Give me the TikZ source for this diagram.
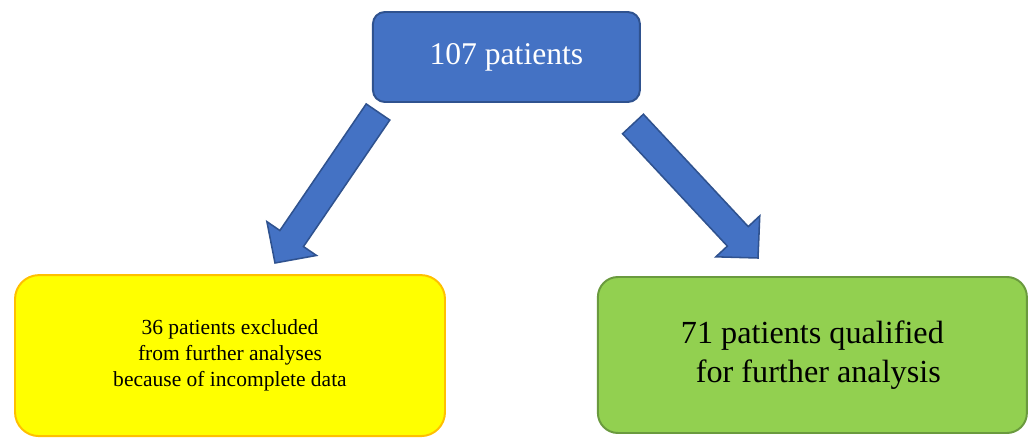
\documentclass[tikz,border=0pt]{standalone}
\usepackage{fontspec}
\setmainfont{Liberation Serif}
\usetikzlibrary{calc}

\definecolor{boxblue}{HTML}{4472C4}
\definecolor{edgeblue}{HTML}{2F528F}
\definecolor{boxyellow}{HTML}{FFFF00}
\definecolor{edgeorange}{HTML}{FFC000}
\definecolor{boxgreen}{HTML}{92D050}
\definecolor{edgegreen}{HTML}{6A9A3E}

\begin{document}
\begin{tikzpicture}[
  flowbox/.style={rectangle, line width=1.4pt, align=center},
  fatarrow/.style={line width=1.1pt, draw=edgeblue, fill=boxblue, line join=miter}]
\useasboundingbox (0,0) rectangle (25.8cm,-10.95cm);

\node at (12.66cm, -1.425cm) [flowbox, rounded corners=0.3cm, draw=edgeblue, fill=boxblue, minimum width=6.675cm, minimum height=2.25cm, text=white, font=\fontsize{22.5}{27}\selectfont] (total) {107 patients};
\node at (5.75cm, -8.89cm) [flowbox, rounded corners=0.6cm, draw=edgeorange, fill=boxyellow, minimum width=10.75cm, minimum height=4.025cm, font=\fontsize{15.3}{18.5}\selectfont] (excluded) {36 patients excluded\\from further analyses\\because of incomplete data};
\node at (20.31cm, -8.875cm) [flowbox, rounded corners=0.5cm, draw=edgegreen, fill=boxgreen, minimum width=10.725cm, minimum height=3.9cm, font=\fontsize{22.9}{27.7}\selectfont] (qualified) {71 patients qualified\\\hspace*{0.37em}for further analysis};

% block arrows: tail, tip, and neck where the head starts
\coordinate (L0) at (9.45cm, -2.8cm);
\coordinate (L1) at (6.875cm, -6.575cm);
\coordinate (Ln) at ($(L1)!0.74cm!(L0)$);
\coordinate (R0) at (15.825cm, -3.1cm);
\coordinate (R1) at (18.95cm, -6.45cm);
\coordinate (Rn) at ($(R1)!0.74cm!(R0)$);

\draw[fatarrow] ($(L0)!0.357cm!90:(L1)$) -- ($(Ln)!0.357cm!90:(L1)$) -- ($(Ln)!0.75cm!90:(L1)$) -- (L1) -- ($(Ln)!0.75cm!-90:(L1)$) -- ($(Ln)!0.357cm!-90:(L1)$) -- ($(L0)!0.357cm!-90:(L1)$) -- cycle;
\draw[fatarrow] ($(R0)!0.357cm!90:(R1)$) -- ($(Rn)!0.357cm!90:(R1)$) -- ($(Rn)!0.75cm!90:(R1)$) -- (R1) -- ($(Rn)!0.75cm!-90:(R1)$) -- ($(Rn)!0.357cm!-90:(R1)$) -- ($(R0)!0.357cm!-90:(R1)$) -- cycle;
\end{tikzpicture}
\end{document}
